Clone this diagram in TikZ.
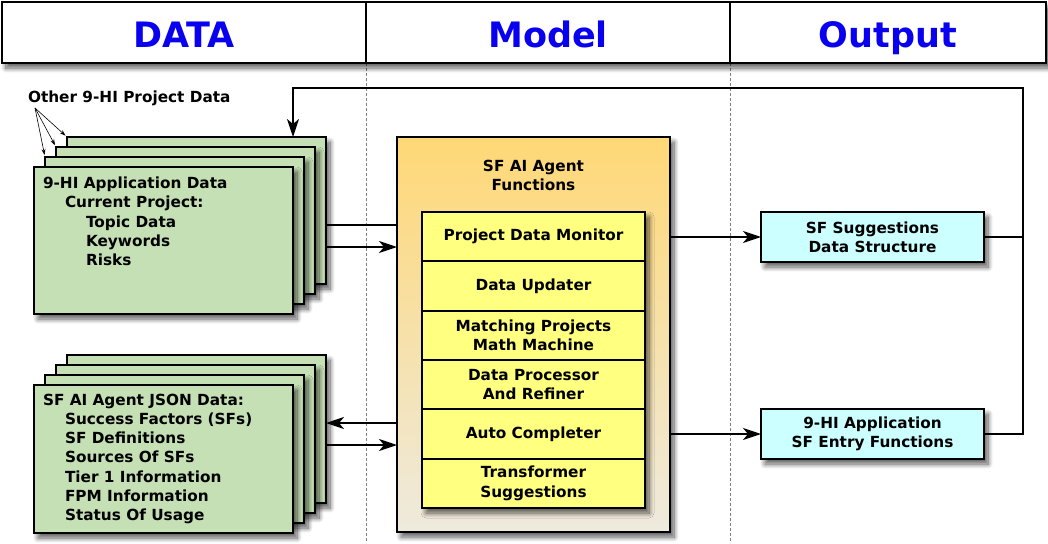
\documentclass[tikz,border=0pt]{standalone}
\usepackage{fontspec}
\setmainfont{DejaVu Sans}
\usetikzlibrary{arrows.meta,shadows.blur,calc}
\definecolor{datagreen}{RGB}{197,224,180}
\definecolor{rowyellow}{RGB}{255,255,128}
\definecolor{outcyan}{RGB}{204,255,255}
\definecolor{midtop}{RGB}{255,216,118}
\definecolor{midbot}{RGB}{238,234,222}
\definecolor{hdblue}{RGB}{10,0,240}
\begin{document}
\begin{tikzpicture}[x=1pt,y=-1pt,outer sep=0pt,
  shad/.style={blur shadow={shadow xshift=4pt,shadow yshift=-5pt,shadow blur radius=5pt,shadow blur steps=10,shadow opacity=65}},
  box/.style={draw=black,line width=1.7pt,inner sep=0pt,anchor=north west},
  databox/.style={box,fill=datagreen,shad,minimum width=259,minimum height=147},
  rowbox/.style={draw=black,line width=1.7pt,fill=rowyellow,minimum width=223,minimum height=49.33,inner sep=0pt,anchor=north,align=center,font=\bodyfont},
  outbox/.style={box,fill=outcyan,shad,minimum width=223,minimum height=50,align=center,font=\bodyfont},
  txt/.style={font=\bodyfont,align=left,inner sep=0pt},
  hdtxt/.style={font=\fontsize{35}{35}\selectfont\bfseries,text=hdblue,text height=25.5pt,text depth=0pt,inner sep=0pt},
  conn/.style={line width=1.7pt},
  arr/.style={conn,-{Stealth[length=18pt,width=12pt,inset=5pt]}},
  thinarr/.style={line width=0.6pt,-{Stealth[length=6pt,width=4pt]}},
  guide/.style={densely dashed,gray,line width=0.6pt}
]
\newcommand\bodyfont{\fontsize{15.3}{19.2}\selectfont\bfseries}
\useasboundingbox (0,0) rectangle (1048,543);

% header
\node[box,draw=none,minimum width=364,minimum height=61] (hd) at (2,2) {};
\node[box,draw=none,minimum width=364,minimum height=61] (hm) at (366,2) {};
\node[box,draw=none,minimum width=316,minimum height=61] (ho) at (730,2) {};
\coordinate (bottomedge) at (0,543);
\draw[guide] (hd.south east) -- (hd.south east |- bottomedge);
\draw[guide] (hm.south east) -- (hm.south east |- bottomedge);
\node[box,fill=white,shad,minimum width=1044,minimum height=61] (header) at (2,2) {};
\draw[line width=1.3pt] (hd.north east) -- (hd.south east);
\draw[line width=1.3pt] (hm.north east) -- (hm.south east);
\node[hdtxt] (tdata) at ($(hd.center)+(0,2.5)$) {DATA};
\node[hdtxt] (tmodel) at ($(hm.center)+(0,2.5)$) {Model};
\node[hdtxt] (tout) at ($(ho.center)+(0,2.5)$) {Output};

% top data stack
\node[databox] (a4) at (67,137) {};
\node[databox] (a3) at (56,147) {};
\node[databox] (a2) at (45,157) {};
\node[databox] (a1) at (34,167) {};
\node[txt,anchor=north west] (a1t) at (43,177) {9-HI Application Data\\
\hspace*{22pt}Current Project:\\
\hspace*{43pt}Topic Data\\
\hspace*{43pt}Keywords\\
\hspace*{43pt}Risks};

\node[txt,anchor=west] (other) at (28,98) {Other 9-HI Project Data};
\coordinate (ofan) at (35,108);
\draw[thinarr,shorten >=2pt] (ofan) -- (a2.north west);
\draw[thinarr,shorten >=2pt] (ofan) -- (a3.north west);
\draw[thinarr,shorten >=2pt] (ofan) -- (a4.north west);

% bottom data stack
\node[databox,minimum height=148] (b4) at (67,355) {};
\node[databox,minimum height=148] (b3) at (56,365) {};
\node[databox,minimum height=148] (b2) at (45,375) {};
\node[databox,minimum height=148] (b1) at (34,385) {};
\node[txt,anchor=north west] (b1t) at (43,394) {SF AI Agent JSON Data:\\
\hspace*{22pt}Success Factors (SFs)\\
\hspace*{22pt}SF Definitions\\
\hspace*{22pt}Sources Of SFs\\
\hspace*{22pt}Tier 1 Information\\
\hspace*{22pt}FPM Information\\
\hspace*{22pt}Status Of Usage};

% model
\node[box,top color=midtop,bottom color=midbot,shad,minimum width=273,minimum height=395] (mid) at (397,137) {};
\node[txt,align=center] (midt) at (533.5,175.5) {SF AI Agent\\Functions};
\node[box,fill=white,draw=none,shad,minimum width=223,minimum height=296] (stackbg) at (422,212) {};
\node[rowbox] (r1row) at (533.5,212) {Project Data Monitor};
\node[rowbox] (r2row) at (r1row.south) {Data Updater};
\node[rowbox] (r3row) at (r2row.south) {Matching Projects\\Math Machine};
\node[rowbox] (r4row) at (r3row.south) {Data Processor\\And Refiner};
\node[rowbox] (r5row) at (r4row.south) {Auto Completer};
\node[rowbox] (r6row) at (r5row.south) {Transformer\\Suggestions};

% output
\node[outbox] (r1) at (761,212) {SF Suggestions\\Data Structure};
\node[outbox] (r2) at (761,409) {9-HI Application\\SF Entry Functions};

% connectors
\coordinate (yA) at (0,225);
\coordinate (yB) at (0,247);
\coordinate (yC) at (0,423);
\coordinate (yD) at (0,445);
\coordinate (loopTR) at (1023,88);
\coordinate (loopTL) at (293,88);
\draw[conn] (a4.east |- yA) -- (mid.west |- yA);
\draw[arr] (a4.east |- yB) -- (mid.west |- yB);
\draw[arr] (mid.west |- yC) -- (b4.east |- yC);
\draw[arr] (b4.east |- yD) -- (mid.west |- yD);
\draw[arr] (mid.east |- r1.west) -- (r1.west);
\draw[arr] (mid.east |- r2.west) -- (r2.west);
\draw[conn] (r1.east) -- (r1.east -| loopTR);
\draw[arr] (r2.east) -| (loopTR) -- (loopTL) -- (loopTL |- a4.north);
\end{tikzpicture}
\end{document}
